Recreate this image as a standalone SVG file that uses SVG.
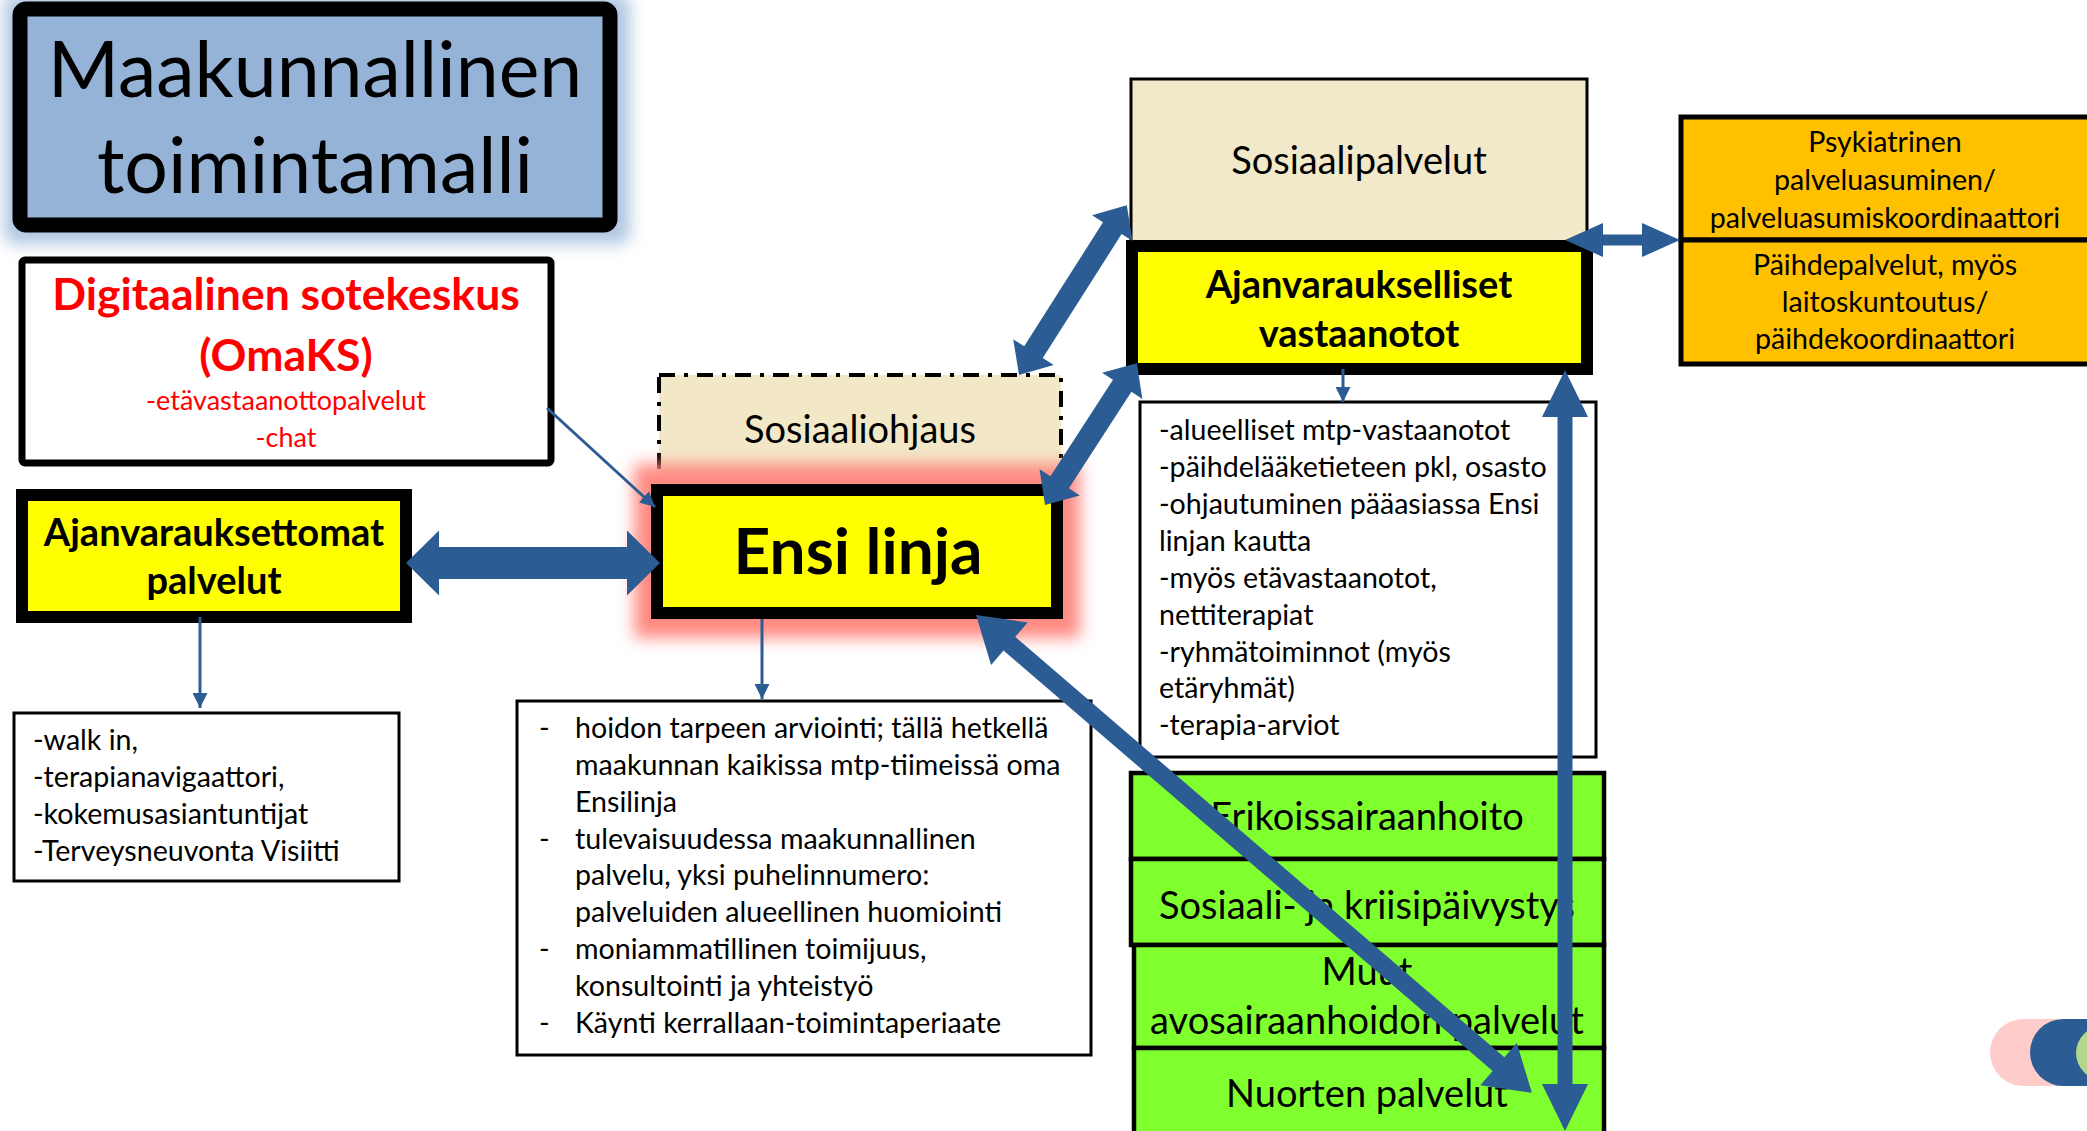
<svg xmlns="http://www.w3.org/2000/svg" width="2087" height="1131" viewBox="0 0 2087 1131">
<defs>
<style>
.f{font-family:Lato,'Liberation Sans',sans-serif;fill:#000}
.b{font-weight:bold}
.c{text-anchor:middle}
.red{fill:#ff0000}
.s38{font-size:38px}
.s28{font-size:28.6px}
.thin{stroke:#2b5c94;stroke-width:3;fill:none}
.big{fill:#2b5c94;stroke:none}
.yel{fill:#ffff00;stroke:#000;stroke-width:12}
.grn{fill:#80ff2e;stroke:#000;stroke-width:4.5}
.org{fill:#ffc000;stroke:#000;stroke-width:5}
.box{fill:#fff;stroke:#000;stroke-width:3}
</style>
<filter id="blur8" x="-20%" y="-20%" width="140%" height="140%"><feGaussianBlur stdDeviation="8"/></filter>
<filter id="glow" x="-25%" y="-40%" width="150%" height="180%"><feGaussianBlur stdDeviation="8"/></filter>
<marker id="ah" viewBox="0 0 10 10" refX="10" refY="5" markerWidth="5" markerHeight="5" orient="auto"><path d="M0,0 L10,5 L0,10 z" fill="#2b5c94"/></marker>
</defs>
<rect width="2087" height="1131" fill="#fff"/>

<g id="title">
<rect x="4" y="-6" width="626" height="250" rx="10" fill="#95b3d7" opacity="0.75" filter="url(#blur8)"/>
<rect x="20" y="9" width="590" height="216" rx="6" fill="#95b3d7" stroke="#000" stroke-width="15"/>
<text class="f c" x="315" y="97" font-size="77">Maakunnallinen</text>
<text class="f c" x="315" y="193" font-size="77">toimintamalli</text>
</g>

<g id="digitaalinen">
<rect x="22" y="260" width="529" height="203" rx="3" fill="#fff" stroke="#000" stroke-width="7"/>
<text class="f b c red" x="286" y="310" font-size="44.5">Digitaalinen sotekeskus</text>
<text class="f b c red" x="286" y="371" font-size="44.5">(OmaKS)</text>
<text class="f c red" x="286" y="410" font-size="27">-etävastaanottopalvelut</text>
<text class="f c red" x="286" y="447" font-size="27">-chat</text>
</g>

<g id="ajanvarauksettomat">
<rect class="yel" x="22" y="495" width="384" height="122"/>
<text class="f b c s38" x="214" y="546">Ajanvarauksettomat</text>
<text class="f b c s38" x="214" y="594">palvelut</text>
</g>

<g id="walkin">
<rect class="box" x="14" y="713" width="385" height="168"/>
<text class="f s28" x="33" y="750">-walk in,</text>
<text class="f s28" x="33" y="787">-terapianavigaattori,</text>
<text class="f s28" x="33" y="824">-kokemusasiantuntijat</text>
<text class="f s28" x="33" y="861">-Terveysneuvonta Visiitti</text>
</g>

<g id="sosiaaliohjaus">
<rect x="659" y="375" width="402" height="120" fill="#f2e8c8" stroke="#000" stroke-width="4" stroke-dasharray="16 9 4 9"/>
<text class="f c s38" x="860" y="443">Sosiaaliohjaus</text>
</g>

<g id="ensilinja">
<rect x="634" y="464" width="446" height="174" fill="#ff8a82" filter="url(#glow)"/>
<rect class="yel" x="657" y="490" width="400" height="123"/>
<text class="f b c" x="858" y="574" font-size="64">Ensi linja</text>
</g>

<g id="ensilinja-info">
<rect class="box" x="517" y="701" width="574" height="354"/>
<g class="f s28">
<text x="539" y="738">-</text><text x="575" y="738">hoidon tarpeen arviointi; tällä hetkellä</text>
<text x="575" y="775">maakunnan kaikissa mtp-tiimeissä oma</text>
<text x="575" y="812">Ensilinja</text>
<text x="539" y="849">-</text><text x="575" y="849">tulevaisuudessa maakunnallinen</text>
<text x="575" y="885">palvelu, yksi puhelinnumero:</text>
<text x="575" y="922">palveluiden alueellinen huomiointi</text>
<text x="539" y="959">-</text><text x="575" y="959">moniammatillinen toimijuus,</text>
<text x="575" y="996">konsultointi ja yhteistyö</text>
<text x="539" y="1033">-</text><text x="575" y="1033">Käynti kerrallaan-toimintaperiaate</text>
</g>
</g>

<g id="sosiaalipalvelut">
<rect x="1131" y="79" width="456" height="168" fill="#f2e9ca" stroke="#000" stroke-width="3"/>
<text class="f c s38" x="1359" y="174">Sosiaalipalvelut</text>
</g>

<g id="ajanvaraukselliset">
<rect class="yel" x="1132" y="246" width="455" height="123"/>
<text class="f b c s38" x="1359" y="298">Ajanvaraukselliset</text>
<text class="f b c s38" x="1359" y="347">vastaanotot</text>
</g>

<g id="ajanvaraukselliset-info">
<rect class="box" x="1140" y="402" width="456" height="355"/>
<g class="f s28">
<text x="1159" y="440">-alueelliset mtp-vastaanotot</text>
<text x="1159" y="477">-päihdelääketieteen pkl, osasto</text>
<text x="1159" y="514">-ohjautuminen pääasiassa Ensi</text>
<text x="1159" y="551">linjan kautta</text>
<text x="1159" y="588">-myös etävastaanotot,</text>
<text x="1159" y="625">nettiterapiat</text>
<text x="1159" y="662">-ryhmätoiminnot (myös</text>
<text x="1159" y="698">etäryhmät)</text>
<text x="1159" y="735">-terapia-arviot</text>
</g>
</g>

<g id="psykiatrinen">
<rect class="org" x="1681" y="117" width="420" height="123"/>
<text class="f c s28" x="1885" y="152">Psykiatrinen</text>
<text class="f c s28" x="1885" y="190">palveluasuminen/</text>
<text class="f c s28" x="1885" y="228">palveluasumiskoordinaattori</text>
</g>

<g id="paihdepalvelut">
<rect class="org" x="1681" y="240" width="420" height="124"/>
<text class="f c s28" x="1885" y="275">Päihdepalvelut, myös</text>
<text class="f c s28" x="1885" y="312">laitoskuntoutus/</text>
<text class="f c s28" x="1885" y="349">päihdekoordinaattori</text>
</g>

<g id="erikoissairaanhoito">
<rect class="grn" x="1131" y="773" width="473" height="86"/>
<text class="f c s38" x="1367" y="830">Erikoissairaanhoito</text>
</g>
<g id="kriisipaivystys">
<rect class="grn" x="1131" y="859" width="473" height="86"/>
<text class="f c s38" x="1367" y="919">Sosiaali- ja kriisipäivystys</text>
</g>
<g id="avosairaanhoito">
<rect class="grn" x="1134" y="945" width="470" height="103"/>
<text class="f c s38" x="1367" y="985">Muut</text>
<text class="f c s38" x="1367" y="1034">avosairaanhoidon palvelut</text>
</g>
<g id="nuorten">
<rect class="grn" x="1134" y="1048" width="470" height="95"/>
<text class="f c s38" x="1367" y="1107">Nuorten palvelut</text>
</g>

<g id="connectors">
<line class="thin" x1="547" y1="408" x2="655" y2="507" marker-end="url(#ah)"/>
<line class="thin" x1="200" y1="617" x2="200" y2="708" marker-end="url(#ah)"/>
<line class="thin" x1="762" y1="619" x2="762" y2="699" marker-end="url(#ah)"/>
<line class="thin" x1="1343" y1="369" x2="1343" y2="402" marker-end="url(#ah)"/>
<polygon class="big" transform="translate(406,563)" points="0,0 33,-32.5 33,-16 221,-16 221,-32.5 254,0 221,32.5 221,16 33,16 33,32.5"/>
<polygon class="big" transform="translate(1019,375) rotate(-57.57)" points="0,0 27,-24 27,-11 174,-11 174,-24 201,0 174,24 174,11 27,11 27,24"/>
<polygon class="big" transform="translate(1045,505) rotate(-57.06)" points="0,0 27,-24 27,-11 142,-11 142,-24 169,0 142,24 142,11 27,11 27,24"/>
<polygon class="big" transform="translate(976,615) rotate(40.68)" points="0,0 44,-28 44,-9 689,-9 689,-28 733,0 689,28 689,9 44,9 44,28"/>
<polygon class="big" transform="translate(1565,370) rotate(90)" points="0,0 47,-23 47,-7.5 714,-7.5 714,-23 761,0 714,23 714,7.5 47,7.5 47,23"/>
<polygon class="big" transform="translate(1565,240)" points="0,0 38,-17 38,-5.5 77,-5.5 77,-17 115,0 77,17 77,5.5 38,5.5 38,17"/>
</g>

<rect x="1990" y="1019" width="130" height="67" rx="33.5" fill="#ffcccc"/>
<rect x="2030" y="1019" width="100" height="67" rx="33.5" fill="#2b5c94"/>
<ellipse cx="2103" cy="1053" rx="27" ry="27" fill="#b3d78b"/>
</svg>
